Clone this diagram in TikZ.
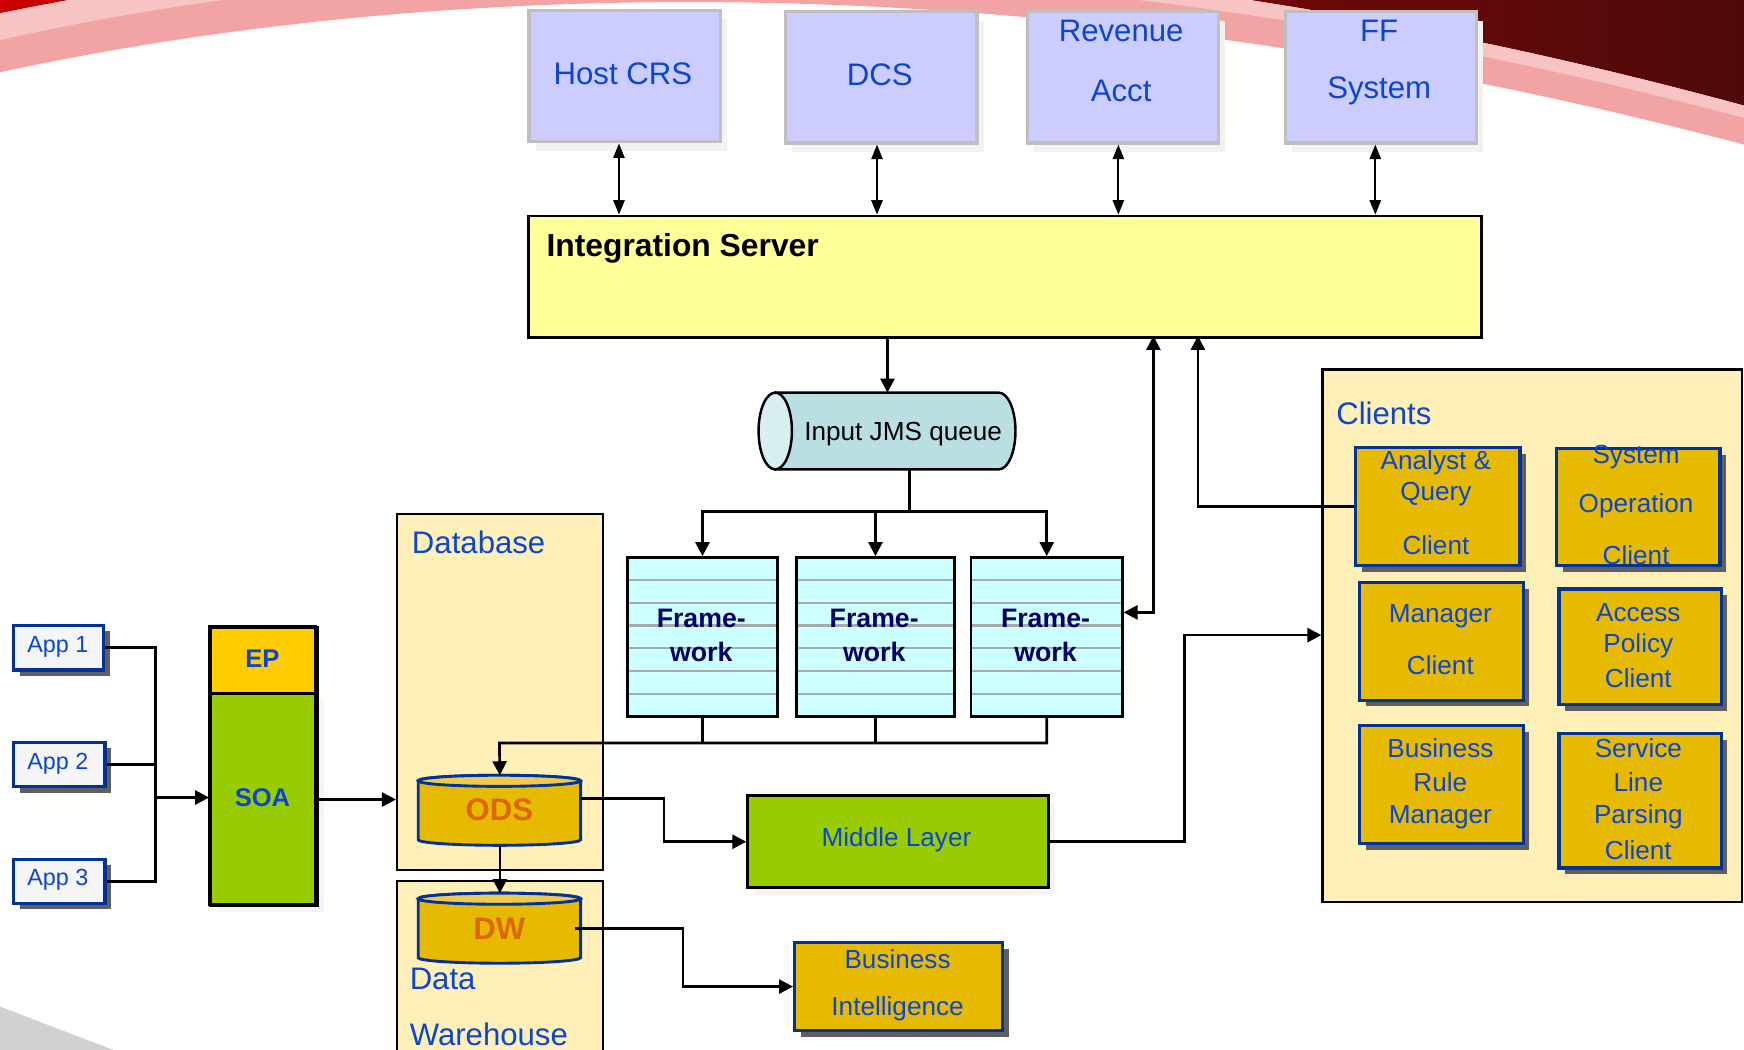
\documentclass[tikz,border=0pt]{standalone}
\usepackage{fontspec}
\setmainfont{Liberation Sans}
\usetikzlibrary{arrows.meta,shadows,calc}

\definecolor{lav}{HTML}{CCCCFF}
\definecolor{lavborder}{HTML}{BFBFBF}
\definecolor{isyellow}{HTML}{FFFF99}
\definecolor{tealbody}{HTML}{B9DFE2}
\definecolor{tealface}{HTML}{D8EEF0}
\definecolor{fwcyan}{HTML}{CCFFFF}
\definecolor{fwline}{HTML}{AAAAAA}
\definecolor{navytxt}{HTML}{000066}
\definecolor{contfill}{HTML}{FFEFB8}
\definecolor{goldfill}{HTML}{E6BA00}
\definecolor{goldtop}{HTML}{EECB50}
\definecolor{bblue}{HTML}{003399}
\definecolor{shadegray}{HTML}{5F5F5F}
\definecolor{tblue}{HTML}{0A46CF}
\definecolor{orngtxt}{HTML}{DD6600}
\definecolor{epyellow}{HTML}{FFCC00}
\definecolor{limegreen}{HTML}{99CC00}
\definecolor{appfill}{HTML}{F5F5F8}
\definecolor{pinkband}{HTML}{F2A3A3}
\definecolor{pinklight}{HTML}{F7C3C3}
\definecolor{redA}{HTML}{C80000}
\definecolor{redB}{HTML}{4E0A0A}

\newcommand\mkbox[6]{%
  \pgfmathsetmacro\mkbw{(#5-#3)/2}%
  \pgfmathsetmacro\mkbh{(#6-#4)/2}%
  \node[#2, minimum width=\mkbw pt, minimum height=\mkbh pt, anchor=north west, inner sep=0pt] (#1) at (#3,#4) {};%
}

\tikzset{
  plainbox/.style={},
  tbox/.style={draw=lavborder, line width=1.5pt, fill=lav,
    drop shadow={shadow xshift=3pt, shadow yshift=-4pt, fill=black!5, opacity=1}},
  isbox/.style={draw=black, line width=1.2pt, fill=isyellow},
  fwbox/.style={draw=black, line width=1.1pt, fill=fwcyan,
    path picture={
      \foreach \i in {1,...,6}{
        \draw[fwline, line width=1pt]
          ($(path picture bounding box.north west)!\i/7!(path picture bounding box.south west)$) --
          ($(path picture bounding box.north east)!\i/7!(path picture bounding box.south east)$);
      }}},
  contbox/.style={draw=black, line width=1.1pt, fill=contfill},
  cbox/.style={draw=bblue, line width=1.5pt, fill=goldfill,
    drop shadow={shadow xshift=2.8pt, shadow yshift=-2.8pt, fill=shadegray, opacity=1}},
  appbox/.style={draw=bblue, line width=1.4pt, fill=appfill,
    drop shadow={shadow xshift=2.6pt, shadow yshift=-2.6pt, fill=shadegray, opacity=1}},
  epbox/.style={draw=black, line width=1.3pt, fill=epyellow},
  soabox/.style={draw=black, line width=1.3pt, fill=limegreen,
    drop shadow={shadow xshift=3pt, shadow yshift=-3pt, fill=black!4, opacity=1}},
  mlbox/.style={draw=black, line width=1.3pt, fill=limegreen,
    drop shadow={shadow xshift=3pt, shadow yshift=-3pt, fill=black!4, opacity=1}},
  bigtxt/.style={font=\fontsize{14pt}{16pt}\selectfont, text=tblue, inner sep=0pt, text height=10pt, text depth=0pt},
  bigbold/.style={font=\fontsize{14.3pt}{16pt}\selectfont\bfseries, text=black, inner sep=0pt, text height=10.2pt, text depth=0pt},
  midtxt/.style={font=\fontsize{11.75pt}{14pt}\selectfont, text=tblue, inner sep=0pt, text height=8.4pt, text depth=0pt},
  fwtxt/.style={font=\fontsize{12pt}{14pt}\selectfont\bfseries, text=navytxt, inner sep=0pt, text height=8.6pt, text depth=0pt},
  apptxt/.style={font=\fontsize{10.5pt}{12pt}\selectfont, text=tblue, inner sep=0pt, text height=7.5pt, text depth=0pt},
  soatxt/.style={font=\fontsize{11.5pt}{13pt}\selectfont\bfseries, text=tblue, inner sep=0pt, text height=8.2pt, text depth=0pt},
  dbtxt/.style={font=\fontsize{14pt}{16pt}\selectfont\bfseries, text=orngtxt, inner sep=0pt, text height=10pt, text depth=0pt},
  arr/.style={line width=1.2pt, -{Triangle[length=6.3pt,width=6.3pt]}},
  dblarr/.style={line width=1.2pt, {Triangle[length=6.3pt,width=6.3pt]}-{Triangle[length=6.3pt,width=6.3pt]}},
  topdbl/.style={line width=1pt, {Triangle[length=6.5pt,width=5pt]}-{Triangle[length=6.5pt,width=5pt]}},
  conn/.style={line width=1.2pt},
}

\begin{document}
\begin{tikzpicture}[x=0.5pt,y=-0.5pt]
\useasboundingbox (0,0) rectangle (1568,944);
\clip (0,0) rectangle (1568,944);
\fill[white] (0,0) rectangle (1568,944);

% decorative swoosh
\shade[left color=redA, right color=redB]
  (0,-20) -- (0,12) .. controls (300,-50) and (850,-100) .. (1568,95) -- (1568,-20) -- cycle;
\fill[pinkband]
  (0,12) .. controls (300,-50) and (850,-100) .. (1568,95) --
  (1568,130) .. controls (850,-60) and (300,0) .. (0,65) -- cycle;
\fill[pinklight]
  (0,12) .. controls (300,-50) and (850,-100) .. (1568,95) --
  (1568,106) .. controls (850,-85) and (300,-32) .. (0,36) -- cycle;
\fill[black!18] (0,905) -- (102,944) -- (0,944) -- cycle;

% top systems
\mkbox{hostcrs}{tbox}{474}{8}{646}{126}
\mkbox{dcs}{tbox}{705}{9}{877}{127}
\mkbox{revenue}{tbox}{922}{9}{1094}{127}
\mkbox{ffsys}{tbox}{1154}{9}{1326}{127}
\node[bigtxt] (t-host) at (560,66) {Host CRS};
\node[bigtxt] (t-dcs) at (791,67) {DCS};
\node[bigtxt] (t-rev1) at (1008,27) {Revenue};
\node[bigtxt] (t-rev2) at (1008,81) {Acct};
\node[bigtxt] (t-ff1) at (1240,27) {FF};
\node[bigtxt] (t-ff2) at (1240,79) {System};

% integration server
\mkbox{is}{isbox}{474}{193}{1331}{302}
\node[bigbold, anchor=west] (t-is) at (491,220) {Integration Server};

\draw[topdbl] ([xshift=-2.5pt]hostcrs.south) -- ([xshift=-2.5pt]hostcrs.south |- is.north);
\draw[topdbl] ([xshift=-2pt]dcs.south) -- ([xshift=-2pt]dcs.south |- is.north);
\draw[topdbl] ([xshift=-2pt]revenue.south) -- ([xshift=-2pt]revenue.south |- is.north);
\draw[topdbl] ([xshift=-2.5pt]ffsys.south) -- ([xshift=-2.5pt]ffsys.south |- is.north);

% JMS queue
\mkbox{jms}{plainbox}{682}{353}{913}{422}
\draw[black, line width=1.1pt, fill=tealbody]
  (697,353) -- (898,353) arc[start angle=-90, end angle=90, x radius=15, y radius=34.5] -- (697,422) -- cycle;
\draw[black, line width=1.1pt, fill=tealface] (697,387.5) ellipse[x radius=15, y radius=34.5];
\node[midtxt, text=black] (t-jms) at (812,388) {Input JMS queue};
\draw[arr] (jms.north |- is.south) -- (jms.north);

% frameworks
\mkbox{fw1}{fwbox}{563}{500}{698}{643}
\mkbox{fw2}{fwbox}{715}{500}{857}{643}
\mkbox{fw3}{fwbox}{872}{500}{1008}{643}
\node[fwtxt] (t-fw1a) at (630.5,556) {Frame-};
\node[fwtxt] (t-fw1b) at (630.5,586) {work};
\node[fwtxt] (t-fw2a) at (786,556) {Frame-};
\node[fwtxt] (t-fw2b) at (786,586) {work};
\node[fwtxt] (t-fw3a) at (940,556) {Frame-};
\node[fwtxt] (t-fw3b) at (940,586) {work};

\coordinate (split) at (818,460);
\draw[conn] (jms.south -| split) -- (split);
\draw[arr] (split) -| (fw1.north);
\draw[arr] (split) -| (fw2.north);
\draw[arr] (split) -| (fw3.north);

% containers
\mkbox{db}{contbox}{356}{461}{541}{781}
\node[bigtxt, anchor=west] (t-db) at (370,488) {Database};
\mkbox{dwh}{contbox}{356}{791}{541}{970}
\node[bigtxt, anchor=west] (t-data) at (368,880) {Data};
\node[bigtxt, anchor=west] (t-wh) at (368,930) {Warehouse};

% ODS cylinder
\mkbox{ods}{plainbox}{376}{697}{522}{760}
\draw[bblue, line width=1.3pt, fill=goldfill]
  (376,702) -- (376,755) arc[start angle=180, end angle=0, x radius=73, y radius=5]
  -- (522,702) arc[start angle=0, end angle=-180, x radius=73, y radius=5] -- cycle;
\draw[bblue, line width=1.3pt, fill=goldtop] (449,702) ellipse[x radius=73, y radius=5];
\node[dbtxt] (t-ods) at (449,728) {ODS};

% DW cylinder
\mkbox{dw}{plainbox}{376}{803}{522}{866}
\draw[bblue, line width=1.3pt, fill=goldfill]
  (376,808) -- (376,861) arc[start angle=180, end angle=0, x radius=73, y radius=5]
  -- (522,808) arc[start angle=0, end angle=-180, x radius=73, y radius=5] -- cycle;
\draw[bblue, line width=1.3pt, fill=goldtop] (449,808) ellipse[x radius=73, y radius=5];
\node[dbtxt] (t-dw) at (449,835) {DW};

% frameworks to ODS
\coordinate (mrg) at (449,668);
\draw[arr] (fw3.south) |- (mrg) -- (ods.north);
\draw[conn] (fw1.south) -- (fw1.south |- mrg);
\draw[conn] (fw2.south) -- (fw2.south |- mrg);

% apps
\mkbox{app1}{appbox}{11}{561}{92}{601}
\mkbox{app2}{appbox}{11}{666}{93}{706}
\mkbox{app3}{appbox}{11}{771}{93}{811}
\node[apptxt] (t-app1) at (52,579) {App 1};
\node[apptxt] (t-app2) at (52,684) {App 2};
\node[apptxt] (t-app3) at (52,789) {App 3};

% EP / SOA
\mkbox{soa}{soabox}{188}{622}{284}{813}
\mkbox{ep}{epbox}{188}{563}{284}{622}
\draw[black, line width=1.3pt] (188,563) rectangle (284,813);
\node[soatxt] (t-ep) at (236,592) {EP};
\node[soatxt] (t-soa) at (236,717) {SOA};

\coordinate (appbus) at (140,717);
\draw[conn] (app1.east) -| (appbus);
\draw[conn] (app3.east) -| (appbus);
\draw[conn] (app2.east) -- (app2.east -| appbus);
\draw[arr] (appbus) -- (appbus -| soa.west);
\draw[arr] (soa.east) -- (soa.east -| db.west);

% ODS / DW links
\draw[arr] (ods.south) -- (dw.north);

% middle layer
\mkbox{ml}{mlbox}{671}{714}{941}{797}
\node[midtxt] (t-ml) at (806,753) {Middle Layer};
\coordinate (odsbend) at (597,718);
\draw[arr] (ods.east |- odsbend) -- (odsbend) |- (ml.west);

% business intelligence
\mkbox{bi}{cbox}{713}{846}{900}{925}
\node[midtxt] (t-bi1) at (807,862) {Business};
\node[midtxt] (t-bi2) at (807,905) {Intelligence};
\coordinate (dwbend) at (614,835);
\draw[arr] ([xshift=-3pt]dw.east |- dwbend) -- (dwbend) |- (bi.west);

% clients
\mkbox{clients}{contbox}{1188}{331}{1565}{810}
\node[bigtxt, anchor=west] (t-clients) at (1201,372) {Clients};
\mkbox{analyst}{cbox}{1217}{401}{1365}{507}
\mkbox{sysop}{cbox}{1398}{402}{1545}{507}
\mkbox{manager}{cbox}{1221}{522}{1368}{628}
\mkbox{access}{cbox}{1400}{528}{1546}{632}
\mkbox{bizrule}{cbox}{1221}{651}{1368}{757}
\mkbox{slp}{cbox}{1400}{658}{1546}{779}

\node[midtxt] (t-an1) at (1291,414) {Analyst \&};
\node[midtxt] (t-an2) at (1291,442) {Query};
\node[midtxt] (t-an3) at (1291,490) {Client};
\node[midtxt] (t-so1) at (1471,408) {System};
\node[midtxt] (t-so2) at (1471,452) {Operation};
\node[midtxt] (t-so3) at (1471,499) {Client};
\node[midtxt] (t-mg1) at (1295,551) {Manager};
\node[midtxt] (t-mg2) at (1295,598) {Client};
\node[midtxt] (t-ac1) at (1473,550) {Access};
\node[midtxt] (t-ac2) at (1473,578) {Policy};
\node[midtxt] (t-ac3) at (1473,610) {Client};
\node[midtxt] (t-br1) at (1295,673) {Business};
\node[midtxt] (t-br2) at (1295,703) {Rule};
\node[midtxt] (t-br3) at (1295,732) {Manager};
\node[midtxt] (t-sl1) at (1473,673) {Service};
\node[midtxt] (t-sl2) at (1473,703) {Line};
\node[midtxt] (t-sl3) at (1473,732) {Parsing};
\node[midtxt] (t-sl4) at (1473,764) {Client};

% links to integration server and clients
\coordinate (isin1) at (1037,302);
\coordinate (isin2) at (1077,302);
\draw[dblarr] ([yshift=11pt]fw3.east) -| (isin1);
\draw[arr] (analyst.west) -| (isin2);
\coordinate (mlbend) at (1065,571);
\draw[arr] (ml.east) -| (mlbend) -- (mlbend -| clients.west);

\end{tikzpicture}
\end{document}
